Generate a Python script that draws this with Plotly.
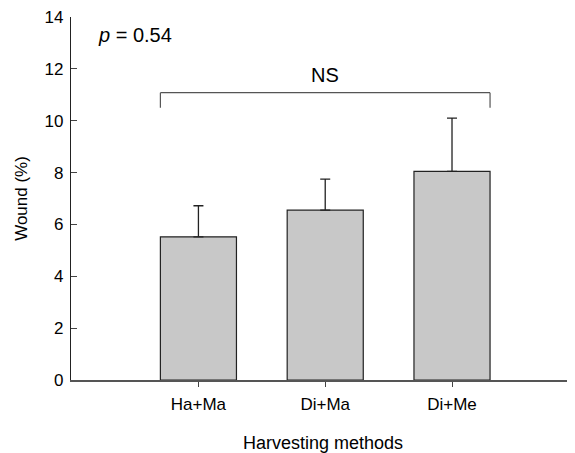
import plotly.graph_objects as go

categories = ["Ha+Ma", "Di+Ma", "Di+Me"]
wound_mean = [5.52, 6.55, 8.05]
wound_err = [1.20, 1.20, 2.05]
y_ticks = [0, 2, 4, 6, 8, 10, 12, 14]
p_text = "<i>p</i> = 0.54"
sig_text = "NS"
bracket_y = 11.08
bracket_leg = 10.5

FONT = "Liberation Sans, Arial, sans-serif"
x_idx = list(range(len(categories)))

fig = go.Figure()
fig.add_trace(go.Bar(
    x=x_idx, y=wound_mean, width=0.6,
    marker=dict(color="#c8c8c8", line=dict(color="#222222", width=1.2)),
    error_y=dict(type="data", symmetric=False, array=wound_err,
                 arrayminus=[0] * len(wound_err), color="#222222",
                 thickness=1.3, width=5),
    showlegend=False,
))

# significance bracket
x0, x1 = x_idx[0] - 0.3, x_idx[-1] + 0.3
bracket_col = "#555555"
fig.add_shape(type="line", x0=x0, x1=x1, y0=bracket_y, y1=bracket_y,
              line=dict(color=bracket_col, width=1.2))
fig.add_shape(type="line", x0=x0, x1=x0, y0=bracket_leg, y1=bracket_y,
              line=dict(color=bracket_col, width=1.2))
fig.add_shape(type="line", x0=x1, x1=x1, y0=bracket_leg, y1=bracket_y,
              line=dict(color=bracket_col, width=1.2))
fig.add_annotation(x=(x0 + x1) / 2, y=bracket_y, yshift=5, text=sig_text,
                   showarrow=False, yanchor="bottom",
                   font=dict(family=FONT, size=20, color="black"))
fig.add_annotation(x=0.05, xref="paper", y=13.3, yref="y", text=p_text,
                   showarrow=False, xanchor="left", yanchor="middle",
                   font=dict(family=FONT, size=20, color="black"))

fig.update_layout(
    width=567, height=445,
    margin=dict(l=63, r=0, t=7, b=73),
    plot_bgcolor="white", paper_bgcolor="white",
    font=dict(family=FONT, color="black"),
    xaxis=dict(
        range=[-1.005, 2.97], tickmode="array", tickvals=x_idx,
        ticktext=categories, ticks="outside", ticklen=5, tickcolor="#444",
        showline=True, linecolor="#555555", linewidth=1.5,
        showgrid=False, zeroline=False, ticklabelstandoff=3,
        tickfont=dict(size=17),
        title=dict(text="Harvesting methods", font=dict(size=18), standoff=25),
    ),
    yaxis=dict(
        range=[0, 14], tickvals=y_ticks, ticks="inside", ticklen=6,
        tickcolor="#444", showline=True, linecolor="#222222", linewidth=1.2,
        showgrid=False, zeroline=False, tickfont=dict(size=17),
        ticklabelstandoff=3, ticklabeloverflow="allow",
        title=dict(text="Wound (%)", font=dict(size=17), standoff=12),
    ),
)

fig.write_html("out.html")
